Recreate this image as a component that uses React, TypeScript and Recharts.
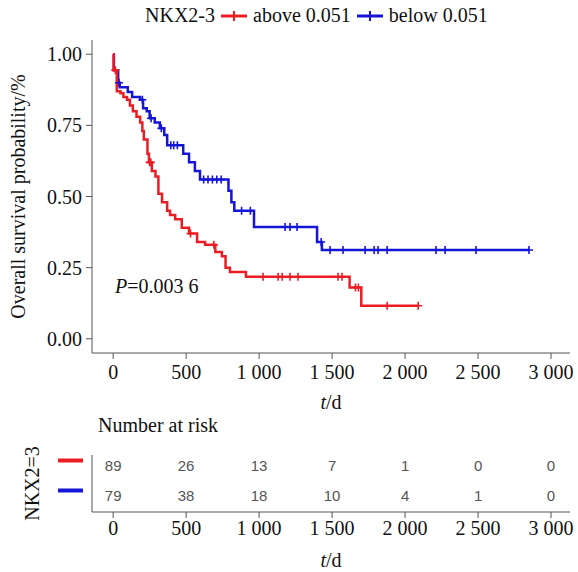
import React from 'react';
import { ComposedChart, Line, Scatter, XAxis, YAxis } from 'recharts';

// KM step points: [time in days, survival]
const redTimes = [0, 3, 25, 50, 70, 95, 115, 135, 160, 185, 200, 210, 235, 245, 265, 290, 310, 335, 370, 390, 425, 470, 520, 575, 630, 700, 745, 770, 800, 910, 1620, 1700, 2090];
const redSurv = [1, 0.944, 0.87, 0.863, 0.85, 0.84, 0.82, 0.8, 0.78, 0.76, 0.73, 0.7, 0.65, 0.62, 0.59, 0.57, 0.51, 0.48, 0.45, 0.435, 0.42, 0.39, 0.37, 0.34, 0.33, 0.305, 0.29, 0.25, 0.235, 0.218, 0.18, 0.116, 0.116];
const redCensorTimes = [15, 250, 258, 530, 690, 1027, 1130, 1158, 1212, 1267, 1541, 1568, 1660, 1680, 1877, 2090];

const blueTimes = [0, 5, 34, 45, 100, 130, 185, 205, 230, 250, 285, 320, 350, 370, 480, 520, 560, 595, 790, 810, 830, 965, 1397, 1430, 2849];
const blueSurv = [1, 0.944, 0.9, 0.884, 0.867, 0.85, 0.84, 0.81, 0.8, 0.775, 0.76, 0.74, 0.716, 0.68, 0.65, 0.62, 0.59, 0.56, 0.52, 0.48, 0.45, 0.393, 0.34, 0.312, 0.312];
const blueCensorTimes = [40, 200, 260, 330, 395, 415, 440, 620, 650, 680, 710, 740, 880, 940, 1178, 1212, 1260, 1425, 1486, 1575, 1726, 1788, 1815, 1877, 2212, 2274, 2486, 2849];

const xTicks = [0, 500, 1000, 1500, 2000, 2500, 3000];
const yTicks = [0, 0.25, 0.5, 0.75, 1];

const riskTimes = [0, 500, 1000, 1500, 2000, 2500, 3000];
const riskRed = [89, 26, 13, 7, 1, 0, 0];
const riskBlue = [79, 38, 18, 10, 4, 1, 0];

const RED = '#EC1C24';
const BLUE = '#1515D8';
const AXIS = '#555';
const SERIF = '"Liberation Serif", "DejaVu Serif", serif';
const SANS = '"Liberation Sans", Arial, sans-serif';

const survAt = (times: number[], surv: number[], t: number) => {
  let s = surv[0];
  for (let i = 0; i < times.length; i++) if (times[i] <= t) s = surv[i];
  return s;
};

const redCurve = redTimes.map((t, i) => ({ t, s: redSurv[i] }));
const blueCurve = blueTimes.map((t, i) => ({ t, s: blueSurv[i] }));
const redCensor = redCensorTimes.map((t) => ({ t, s: survAt(redTimes, redSurv, t) }));
const blueCensor = blueCensorTimes.map((t) => ({ t, s: survAt(blueTimes, blueSurv, t) }));

const riskRows = [
  ...riskTimes.map((t, i) => ({ t, row: 0, n: riskRed[i] })),
  ...riskTimes.map((t, i) => ({ t, row: 1, n: riskBlue[i] })),
];

const fmtDays = (v: number) =>
  v >= 1000 ? `${Math.floor(v / 1000)} ${String(v % 1000).padStart(3, '0')}` : String(v);

const cross = (color: string) => (p: any) => (
  <path d={`M${p.cx - 4},${p.cy}h8M${p.cx},${p.cy - 4}v8`} stroke={color} strokeWidth={1.6} fill="none" />
);

const LegendGlyph = ({ color }: { color: string }) => (
  <svg width={28} height={14} style={{ margin: '0 5px' }}>
    <line x1={1} y1={7} x2={27} y2={7} stroke={color} strokeWidth={3} />
    <line x1={14} y1={2} x2={14} y2={12} stroke={color} strokeWidth={2} />
  </svg>
);

const tdLabel = (cy: number) => (props: any) => {
  const vb = props.viewBox;
  return (
    <text x={vb.x + vb.width / 2} y={cy} textAnchor="middle" fontFamily={SERIF} fontSize={20} fill="#111">
      <tspan fontStyle="italic">t</tspan>/d
    </text>
  );
};

const RiskTick = (p: any) => (
  <line x1={58} x2={83} y1={p.y - 5} y2={p.y - 5} stroke={p.payload.value === 0 ? RED : BLUE} strokeWidth={4} />
);

const riskText = (p: any) => (
  <text x={p.cx} y={p.cy} dy="0.35em" textAnchor="middle" fontFamily={SANS} fontSize={15} fill="#555">
    {p.payload.n}
  </text>
);

export default function App() {
  const tickStyle = { fill: '#111', fontSize: 20, fontFamily: SERIF };
  return (
    <div style={{ position: 'absolute', left: 0, top: 0, width: 578, height: 572, background: '#fff', fontFamily: SERIF }}>
      <div style={{ position: 'absolute', left: 145, top: 4, display: 'flex', alignItems: 'center', fontSize: 20, color: '#111', whiteSpace: 'nowrap' }}>
        <span>NKX2-3</span>
        <LegendGlyph color={RED} />
        <span>above 0.051</span>
        <LegendGlyph color={BLUE} />
        <span>below 0.051</span>
      </div>

      <div style={{ position: 'absolute', left: 0, top: 0 }}>
        <ComposedChart width={578} height={420} margin={{ top: 40, right: 8, left: 0, bottom: 0 }}>
          <XAxis type="number" dataKey="t" domain={[-145, 3130]} ticks={xTicks} tickFormatter={fmtDays}
            stroke={AXIS} tick={tickStyle} tickMargin={6} height={67} interval={0} label={tdLabel(409)} />
          <YAxis type="number" dataKey="s" domain={[-0.05, 1.05]} ticks={yTicks} tickFormatter={(v: number) => v.toFixed(2)}
            stroke={AXIS} tick={tickStyle} tickMargin={4} width={92}
            label={{ value: 'Overall survival probability/%', angle: -90, position: 'insideLeft', offset: 18, style: { fontFamily: SERIF, fontSize: 20, fill: '#111', textAnchor: 'middle' } }} />
          <Line data={blueCurve} dataKey="s" type="stepAfter" stroke={BLUE} strokeWidth={2.5} dot={false} isAnimationActive={false} />
          <Line data={redCurve} dataKey="s" type="stepAfter" stroke={RED} strokeWidth={2.5} dot={false} isAnimationActive={false} />
          <Scatter data={blueCensor} dataKey="s" shape={cross(BLUE)} isAnimationActive={false} />
          <Scatter data={redCensor} dataKey="s" shape={cross(RED)} isAnimationActive={false} />
        </ComposedChart>
      </div>

      <div style={{ position: 'absolute', left: 115, top: 275, fontSize: 20, color: '#111' }}>
        <i>P</i>=0.003 6
      </div>

      <div style={{ position: 'absolute', left: 98, top: 414, fontSize: 20, color: '#111' }}>Number at risk</div>

      <div style={{ position: 'absolute', left: 0, top: 440 }}>
        <ComposedChart width={578} height={132} margin={{ top: 15, right: 8, left: 0, bottom: 0 }}>
          <XAxis type="number" dataKey="t" domain={[-145, 3130]} ticks={xTicks} tickFormatter={fmtDays}
            stroke={AXIS} tick={tickStyle} tickMargin={3} height={60} interval={0} label={tdLabel(127)} />
          <YAxis type="number" dataKey="row" domain={[-0.35, 1.55]} reversed ticks={[0, 1]} tickLine={false}
            stroke={AXIS} tick={<RiskTick />} width={92}
            label={{ value: 'NKX2=3', angle: -90, position: 'insideLeft', offset: 32, style: { fontFamily: SERIF, fontSize: 20, fill: '#111', textAnchor: 'middle' } }} />
          <Scatter data={riskRows} dataKey="row" shape={riskText} isAnimationActive={false} />
        </ComposedChart>
      </div>
    </div>
  );
}
